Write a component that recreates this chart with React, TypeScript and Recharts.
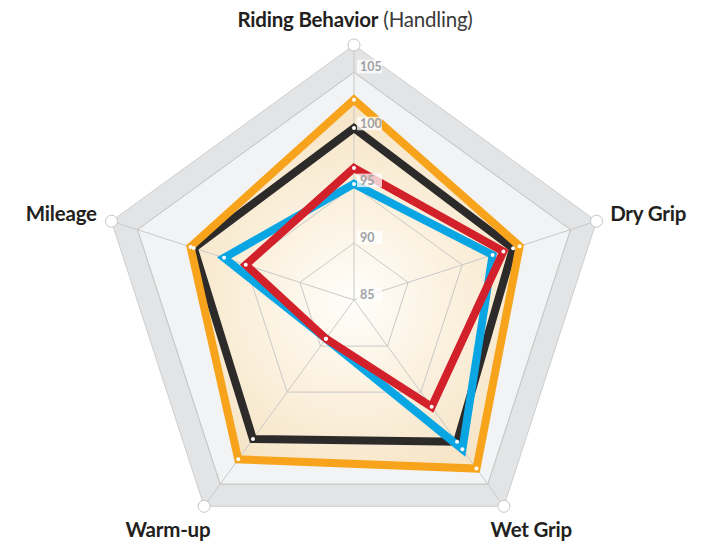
import React from 'react';
import { RadarChart, Radar, PolarGrid, PolarAngleAxis, PolarRadiusAxis } from 'recharts';

// categories clockwise from the top
const categories = ['Riding Behavior', 'Dry Grip', 'Wet Grip', 'Warm-up', 'Mileage'];
const tireOrange = [102.6, 100.3, 103.3, 102.3, 100.1];
const tireBlack = [100.1, 99.7, 100.4, 100.1, 99.8];
const tireBlue = [95.2, 97.8, 101.2, 89.2, 97.0];
const tireRed = [96.6, 98.8, 96.6, 89.2, 95.0];
const outerBand = [107.4, 107.4, 107.4, 107.4, 107.4];
const innerBand = [105, 105, 105, 105, 105];
const radiusTicks = [85, 90, 95, 100, 105];
const domain: [number, number] = [85, 107.4];

const data = categories.map((subject, i) => ({
  subject,
  orange: tireOrange[i],
  black: tireBlack[i],
  blue: tireBlue[i],
  red: tireRed[i],
  outer: outerBand[i],
  inner: innerBand[i],
}));

const W = 701;
const H = 541;
const CX = 354;
const CY = 300;
const R = 255;
const FONT = 'Lato, "Open Sans", sans-serif';

const labelPos: Record<string, { dx: number; dy: number; anchor: 'start' | 'middle' | 'end' }> = {
  'Riding Behavior': { dx: 1, dy: -10, anchor: 'middle' },
  'Dry Grip': { dx: 6, dy: 2, anchor: 'start' },
  'Wet Grip': { dx: -18, dy: 24, anchor: 'start' },
  'Warm-up': { dx: 11, dy: 24, anchor: 'end' },
  Mileage: { dx: -7, dy: 2, anchor: 'end' },
};

const AngleTick = ({ x, y, payload }: any) => {
  const p = labelPos[payload.value] || { dx: 0, dy: 0, anchor: 'middle' };
  return (
    <text
      x={x + p.dx}
      y={y + p.dy}
      textAnchor={p.anchor}
      fontFamily={FONT}
      fontSize={20.5}
      fontWeight={700}
      fill="#231f20"
      letterSpacing={-0.2}
    >
      {payload.value}
      {payload.value === 'Riding Behavior' && (
        <tspan fontWeight={400} fill="#3a3a3a">
          {' (Handling)'}
        </tspan>
      )}
    </text>
  );
};

const RadiusTick = ({ x, y, payload }: any) => (
  <g>
    <rect x={x + 3} y={y - 12.5} width={25} height={13.5} fill="#ffffff" fillOpacity={0.75} />
    <text x={x + 6} y={y - 1.5} fontFamily={FONT} fontSize={12.5} fontWeight={700} fill="#a0a2a6">
      {payload.value}
    </text>
  </g>
);

const layer: React.CSSProperties = { position: 'absolute', left: 0, top: 0 };
const chartProps = {
  width: W,
  height: H,
  data,
  cx: CX,
  cy: CY,
  outerRadius: R,
  margin: { top: 0, right: 0, bottom: 0, left: 0 },
};

export default function App() {
  return (
    <div style={{ position: 'absolute', left: 0, top: 0, width: W, height: H, background: '#fff' }}>
      <svg width={0} height={0} style={{ position: 'absolute' }}>
        <defs>
          <radialGradient id="beige" gradientUnits="userSpaceOnUse" cx={CX} cy={CY} r={215}>
            <stop offset="0%" stopColor="#fffefb" />
            <stop offset="45%" stopColor="#fbf1df" />
            <stop offset="100%" stopColor="#f5e2c0" />
          </radialGradient>
        </defs>
      </svg>

      {/* background bands and the beige fill */}
      <div style={layer}>
        <RadarChart {...chartProps}>
          <PolarAngleAxis dataKey="subject" tick={false} axisLine={false} tickLine={false} />
          <PolarRadiusAxis domain={domain} tick={false} axisLine={false} tickLine={false} />
          <Radar dataKey="outer" stroke="#cdcecf" strokeWidth={1} fill="#e3e4e6" fillOpacity={1} dot={false} isAnimationActive={false} />
          <Radar dataKey="inner" stroke="#cdcecf" strokeWidth={1} fill="#f2f3f4" fillOpacity={1} dot={false} isAnimationActive={false} />
          <Radar dataKey="orange" stroke="none" fill="url(#beige)" fillOpacity={1} dot={false} isAnimationActive={false} />
        </RadarChart>
      </div>

      {/* grid, series and labels */}
      <div style={layer}>
        <RadarChart {...chartProps}>
          <PolarGrid gridType="polygon" stroke="#c9c9c9" strokeWidth={1} />
          <PolarAngleAxis dataKey="subject" tick={<AngleTick />} axisLine={false} tickLine={false} />
          <Radar dataKey="outer" stroke="none" fill="none" dot={{ r: 6, fill: '#fff', stroke: '#c5c6c8', strokeWidth: 1 }} isAnimationActive={false} />
          <Radar dataKey="black" stroke="#2d2b2a" strokeWidth={8} fill="none" dot={{ r: 2, fill: '#fff', stroke: 'none' }} isAnimationActive={false} />
          <Radar dataKey="orange" stroke="#f7a41c" strokeWidth={8} fill="none" dot={{ r: 2, fill: '#fff', stroke: 'none' }} isAnimationActive={false} />
          <Radar dataKey="blue" stroke="#0aa6e4" strokeWidth={8} fill="none" dot={{ r: 2, fill: '#fff', stroke: 'none' }} isAnimationActive={false} />
          <Radar dataKey="red" stroke="#d3212b" strokeWidth={8} fill="none" dot={{ r: 2, fill: '#fff', stroke: 'none' }} isAnimationActive={false} />
          <PolarRadiusAxis angle={90} domain={domain} ticks={radiusTicks as any} tick={<RadiusTick />} axisLine={false} tickLine={false} />
        </RadarChart>
      </div>
    </div>
  );
}
